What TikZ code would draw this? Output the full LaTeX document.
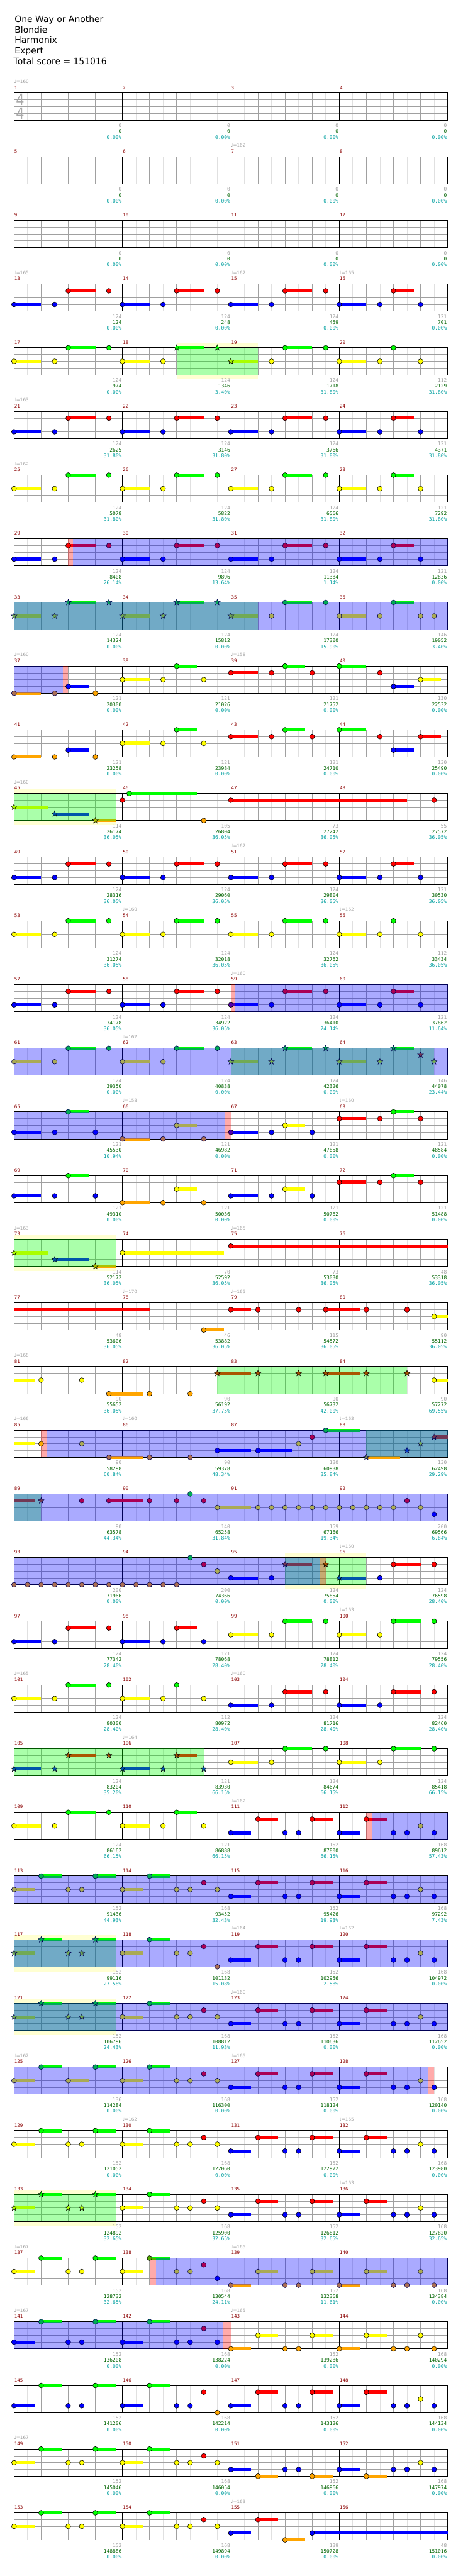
\documentclass[tikz,border=0pt]{standalone}
\usepackage{fontspec}
\setmainfont{DejaVu Sans}
\newfontfamily\chartmono{DejaVu Sans Mono}
\usetikzlibrary{shapes.geometric}

\definecolor{lane0}{HTML}{00FF00}
\definecolor{lane1}{HTML}{FF0000}
\definecolor{lane2}{HTML}{FFFF00}
\definecolor{lane3}{HTML}{0000FF}
\definecolor{lane4}{HTML}{FFA500}
\definecolor{gridGray}{HTML}{A0A0A0}
\definecolor{gridLight}{HTML}{E0E0E0}
\definecolor{barRed}{HTML}{8B0000}
\definecolor{scoreGray}{HTML}{A0A0A0}
\definecolor{scoreGreen}{HTML}{006400}
\definecolor{scoreCyan}{HTML}{00A0A0}
\definecolor{bandYellow}{HTML}{FFFFD2}
\definecolor{sigGray}{HTML}{AAAAAA}

\tikzset{
    ROW/.style={shift={(0,9.4*#1)}},
    EIGHTH_LINE/.style={draw=gridLight, line width=0.5pt},
    BEAT_LINE/.style={draw=gridGray, line width=0.5pt},
    LANE_LINE/.style={draw=gridGray, line width=0.6pt},
    BAR_LINE/.style={draw=black, line width=0.45pt},
    STAFF_BORDER/.style={draw=black, line width=0.7pt},
    NOTE/.style={shape=circle, draw=black, line width=0.4pt, inner sep=0pt,
        minimum size=5.4pt},
    STAR_NOTE/.style={shape=star, star points=5, star point ratio=2.4,
        draw=black, line width=0.35pt, inner sep=0pt, minimum size=6.8pt},
    NOTE_n/.style={NOTE, fill=lane#1},
    NOTE_a/.style={NOTE, fill=lane#1!67!blue, draw=black!67!blue},
    NOTE_p/.style={NOTE, fill=lane#1!67!red},
    NOTE_s/.style={STAR_NOTE, fill=lane#1!67!green},
    NOTE_t/.style={STAR_NOTE, fill=lane#1!67!green!67!blue, draw=black!67!blue},
    SP_BAND/.style={fill=bandYellow},
    SP_PHRASE/.style={fill=green, fill opacity=0.333},
    SP_ACTIVE/.style={fill=blue, fill opacity=0.333},
    SP_MARKER/.style={fill=red, fill opacity=0.333},
    MEASURE_NUM/.style={anchor=base west, inner sep=0pt, text=barRed,
        font=\chartmono\fontsize{5.2}{6}\selectfont},
    SCORE_TEXT/.style={anchor=base east, inner sep=0pt,
        font=\chartmono\fontsize{5.5}{6}\selectfont},
    TEMPO/.style={anchor=base west, inner sep=0pt, text=scoreGray,
        font=\fontsize{5}{6}\selectfont},
    TIME_SIG/.style={inner sep=0pt, text=sigGray, font=\fontsize{14.5}{16}\selectfont},
    TITLE/.style={anchor=base west, inner sep=0pt, font=\fontsize{9.7}{11}\selectfont}
}

% one staff of four measures, #1 = row
\newcommand{\ghstaff}[1]{%
    \fill[white] (0,0) rectangle (16,4);
    \foreach \x in {0.5,1.5,...,15.5} \draw[EIGHTH_LINE] (\x,0) -- (\x,4);
    \foreach \x in {1,2,3,5,6,7,9,10,11,13,14,15} \draw[BEAT_LINE] (\x,0) -- (\x,4);
    \foreach \y in {1,2,3} \draw[LANE_LINE] (0,\y) -- (16,\y);
    \foreach \x in {4,8,12} \draw[BAR_LINE] (\x,0) -- (\x,4);
    \draw[STAFF_BORDER] (0,0) rectangle (16,4);
    \foreach \m in {0,...,3}{
        \pgfmathtruncatemacro{\num}{4*#1+\m+1}
        \node[MEASURE_NUM] (bar\num) at (4*\m+0.01,-0.547) {\num};
    }}
% sustains, then star power shading (#2), then note heads
\newcommand{\ghnotes}[3]{%
    \foreach \b/\l/\e/\k in {#3}{
        \fill[lane\l] (\b,\l-0.233) rectangle (\e,\l+0.233);
    }
    #2
    \foreach \b/\l/\e/\k [count=\i] in {#3}{
        \node[NOTE_\k=\l] (#1n\i) at (\b,\l) {};
    }}
\newcommand{\ghheld}[3]{\fill[lane#1] (#2,#1-0.233) rectangle (#3,#1+0.233);}
\newcommand{\spband}[2]{\fill[SP_BAND] (#1,-0.667) rectangle (#2,4.667);}
\newcommand{\spphrase}[2]{\fill[SP_PHRASE] (#1,0) rectangle (#2,4);}
\newcommand{\spactive}[2]{\fill[SP_ACTIVE] (#1,0) rectangle (#2,4);}
\newcommand{\spmarker}[2]{\fill[SP_MARKER] (#1,0) rectangle (#2,4);}
\newcommand{\ghtempo}[3]{\node[TEMPO] (#1t#2) at (#2,-1.417) {♩=#3};}
\newcommand{\ghscores}[2]{%
    \foreach \g/\c/\p [count=\j] in {#2}{
        \node[SCORE_TEXT, text=scoreGray] (#1g\j) at (4*\j-0.02,5.067) {\g};
        \node[SCORE_TEXT, text=scoreGreen] (#1c\j) at (4*\j-0.02,5.933) {\c};
        \node[SCORE_TEXT, text=scoreCyan] (#1p\j) at (4*\j-0.02,6.8) {\p\%};
    }}

\begin{document}
\begin{tikzpicture}[x=30pt, y=-7.5pt]
    \useasboundingbox (-0.51667,-13.7333) rectangle (16.55,366.5333);
    \fill[white] (-0.51667,-13.7333) rectangle (16.55,366.5333);

    \node[TITLE] (song) at (0.02,-10.447) {One Way or Another};
    \node[TITLE] (artist) at (0.02,-8.9) {Blondie};
    \node[TITLE] (charter) at (0.02,-7.353) {Harmonix};
    \node[TITLE] (level) at (0.02,-5.807) {Expert};
    \node[TITLE] (total) at (-0.02,-4.26) {Total score = 151016};

    % measures 1-12
    \begin{scope}[ROW=0]
        \ghstaff{0}
        \node[TIME_SIG] (sigtop) at (0.225,0.98) {\scalebox{1}[1.2]{4}};
        \node[TIME_SIG] (sigbottom) at (0.225,2.98) {\scalebox{1}[1.2]{4}};
        \ghtempo{m1}{0}{160}
        \ghscores{m1}{0/0/0.00, 0/0/0.00, 0/0/0.00, 0/0/0.00}
    \end{scope}
    \begin{scope}[ROW=1]
        \ghstaff{1}
        \ghtempo{m5}{8}{162}
        \ghscores{m5}{0/0/0.00, 0/0/0.00, 0/0/0.00, 0/0/0.00}
    \end{scope}
    \begin{scope}[ROW=2]
        \ghstaff{2}
        \ghscores{m9}{0/0/0.00, 0/0/0.00, 0/0/0.00, 0/0/0.00}
    \end{scope}

    % measures 13-28
    \begin{scope}[ROW=3]
        \ghstaff{3}
        \ghtempo{m13}{0}{165} \ghtempo{m13}{8}{162} \ghtempo{m13}{12}{165}
        \ghnotes{m13}{}{0/3/1/n, 1.5/3/1.5/n, 2/1/3/n, 3.5/1/3.5/n, 4/3/5/n, 5.5/3/5.5/n, 6/1/7/n, 7.5/1/7.5/n,
            8/3/9/n, 9.5/3/9.5/n, 10/1/11/n, 11.5/1/11.5/n, 12/3/13/n, 13.5/3/13.5/n, 14/1/14.75/n, 15/3/15/n}
        \ghscores{m13}{124/124/0.00, 124/248/0.00, 124/459/0.00, 121/701/0.00}
    \end{scope}
    \begin{scope}[ROW=4]
        \spband{6}{9}
        \ghstaff{4}
        \ghnotes{m17}{\spphrase{6}{9}}{0/2/1/n, 1.5/2/1.5/n, 2/0/3/n, 3.5/0/3.5/n, 4/2/5/n, 5.5/2/5.5/n, 6/0/7/s, 7.5/0/7.5/s,
            8/2/9/s, 9.5/2/9.5/n, 10/0/11/n, 11.5/0/11.5/n, 12/2/13/n, 13.5/2/13.5/n, 14/0/14/n, 15/2/15/n}
        \ghscores{m17}{124/974/0.00, 124/1346/3.40, 124/1718/31.80, 112/2129/31.80}
    \end{scope}
    \begin{scope}[ROW=5]
        \ghstaff{5}
        \ghtempo{m21}{0}{163}
        \ghnotes{m21}{}{0/3/1/n, 1.5/3/1.5/n, 2/1/3/n, 3.5/1/3.5/n, 4/3/5/n, 5.5/3/5.5/n, 6/1/7/n, 7.5/1/7.5/n,
            8/3/9/n, 9.5/3/9.5/n, 10/1/11/n, 11.5/1/11.5/n, 12/3/13/n, 13.5/3/13.5/n, 14/1/14.75/n, 15/3/15/n}
        \ghscores{m21}{124/2625/31.80, 124/3146/31.80, 124/3766/31.80, 121/4371/31.80}
    \end{scope}
    \begin{scope}[ROW=6]
        \ghstaff{6}
        \ghtempo{m25}{0}{162}
        \ghnotes{m25}{}{0/2/1/n, 1.5/2/1.5/n, 2/0/3/n, 3.5/0/3.5/n, 4/2/5/n, 5.5/2/5.5/n, 6/0/7/n, 7.5/0/7.5/n,
            8/2/9/n, 9.5/2/9.5/n, 10/0/11/n, 11.5/0/11.5/n, 12/2/13/n, 13.5/2/13.5/n, 14/0/14.75/n, 15/2/15/n}
        \ghscores{m25}{124/5078/31.80, 124/5822/31.80, 124/6566/31.80, 121/7292/31.80}
    \end{scope}

    % measures 29-44
    \begin{scope}[ROW=7]
        \ghstaff{7}
        \ghnotes{m29}{\spactive{2.17}{16} \spmarker{2}{2.17}}{0/3/1/n, 1.5/3/1.5/n, 2/1/3/p, 3.5/1/3.5/a, 4/3/5/a, 5.5/3/5.5/a, 6/1/7/a, 7.5/1/7.5/a,
            8/3/9/a, 9.5/3/9.5/a, 10/1/11/a, 11.5/1/11.5/a, 12/3/13/a, 13.5/3/13.5/a, 14/1/14.75/a, 15/3/15/a}
        \ghscores{m29}{124/8408/26.14, 124/9896/13.64, 124/11384/1.14, 121/12836/0.00}
    \end{scope}
    \begin{scope}[ROW=8]
        \ghstaff{8}
        \ghnotes{m33}{\spphrase{0}{9} \spactive{0}{16}}{0/2/1/t, 1.5/2/1.5/t, 2/0/3/t, 3.5/0/3.5/t, 4/2/5/t, 5.5/2/5.5/t, 6/0/7/t, 7.5/0/7.5/t,
            8/2/9/t, 9.5/2/9.5/a, 10/0/11/a, 11.5/0/11.5/a, 12/2/13/a, 13.5/2/13.5/a, 14/0/14.75/a, 15/2/15/a, 15.5/2/15.5/a}
        \ghscores{m33}{124/14324/0.00, 124/15812/0.00, 124/17300/15.90, 146/19052/3.40}
    \end{scope}
    \begin{scope}[ROW=9]
        \ghstaff{9}
        \ghtempo{m37}{0}{160} \ghtempo{m37}{8}{158}
        \ghnotes{m37}{\spactive{0}{1.8} \spmarker{1.8}{2}}{0/4/1/a, 1.5/4/1.5/a, 2/3/2.75/n, 3/4/3/n, 4/2/5/n, 5.5/2/5.5/n, 6/0/6.75/n, 7/2/7/n,
            8/1/9/n, 9.5/1/9.5/n, 10/0/10.75/n, 11/1/11/n, 12/0/13/n, 13.5/1/13.5/n, 14/3/14.75/n, 15/2/15.75/n}
        \ghscores{m37}{121/20300/0.00, 121/21026/0.00, 121/21752/0.00, 130/22532/0.00}
    \end{scope}
    \begin{scope}[ROW=10]
        \ghstaff{10}
        \ghnotes{m41}{}{0/4/1/n, 1.5/4/1.5/n, 2/3/2.75/n, 3/4/3/n, 4/2/5/n, 5.5/2/5.5/n, 6/0/6.75/n, 7/2/7/n,
            8/1/9/n, 9.5/1/9.5/n, 10/0/10.75/n, 11/1/11/n, 12/0/13/n, 13.5/1/13.5/n, 14/3/14.75/n, 15/1/15.75/n}
        \ghscores{m41}{121/23258/0.00, 121/23984/0.00, 121/24710/0.00, 130/25490/0.00}
    \end{scope}

    % measures 45-60
    \begin{scope}[ROW=11]
        \spband{0}{3.75}
        \ghstaff{11}
        \ghtempo{m45}{0}{160}
        \ghnotes{m45}{\spphrase{0}{3.75}}{0/2/1.25/s, 1.5/3/2.75/s, 3/4/3.75/s, 4/1/4/n, 4.25/0/6.75/n, 7/4/7/n, 8/1/14.5/n, 15.5/1/15.5/n}
        \ghscores{m45}{114/26174/36.05, 105/26804/36.05, 73/27242/36.05, 55/27572/36.05}
    \end{scope}
    \begin{scope}[ROW=12]
        \ghstaff{12}
        \ghtempo{m49}{8}{162}
        \ghnotes{m49}{}{0/3/1/n, 1.5/3/1.5/n, 2/1/3/n, 3.5/1/3.5/n, 4/3/5/n, 5.5/3/5.5/n, 6/1/7/n, 7.5/1/7.5/n,
            8/3/9/n, 9.5/3/9.5/n, 10/1/11/n, 11.5/1/11.5/n, 12/3/13/n, 13.5/3/13.5/n, 14/1/14.75/n, 15/3/15/n}
        \ghscores{m49}{124/28316/36.05, 124/29060/36.05, 124/29804/36.05, 121/30530/36.05}
    \end{scope}
    \begin{scope}[ROW=13]
        \ghstaff{13}
        \ghtempo{m53}{4}{160} \ghtempo{m53}{12}{162}
        \ghnotes{m53}{}{0/2/1/n, 1.5/2/1.5/n, 2/0/3/n, 3.5/0/3.5/n, 4/2/5/n, 5.5/2/5.5/n, 6/0/7/n, 7.5/0/7.5/n,
            8/2/9/n, 9.5/2/9.5/n, 10/0/11/n, 11.5/0/11.5/n, 12/2/13/n, 13.5/2/13.5/n, 14/0/14/n, 15/2/15/n}
        \ghscores{m53}{124/31274/36.05, 124/32018/36.05, 124/32762/36.05, 112/33434/36.05}
    \end{scope}
    \begin{scope}[ROW=14]
        \ghstaff{14}
        \ghtempo{m57}{8}{160}
        \ghnotes{m57}{\spactive{8.17}{16} \spmarker{8}{8.17}}{0/3/1/n, 1.5/3/1.5/n, 2/1/3/n, 3.5/1/3.5/n, 4/3/5/n, 5.5/3/5.5/n, 6/1/7/n, 7.5/1/7.5/n,
            8/3/9/p, 9.5/3/9.5/a, 10/1/11/a, 11.5/1/11.5/a, 12/3/13/a, 13.5/3/13.5/a, 14/1/14.75/a, 15/3/15/a}
        \ghscores{m57}{124/34178/36.05, 124/34922/36.05, 124/36410/24.14, 121/37862/11.64}
    \end{scope}

    % measures 61-76
    \begin{scope}[ROW=15]
        \ghstaff{15}
        \ghtempo{m61}{4}{162}
        \ghnotes{m61}{\spphrase{8}{15.5} \spactive{0}{16}}{0/2/1/a, 1.5/2/1.5/a, 2/0/3/a, 3.5/0/3.5/a, 4/2/5/a, 5.5/2/5.5/a, 6/0/7/a, 7.5/0/7.5/a,
            8/2/9/t, 9.5/2/9.5/t, 10/0/11/t, 11.5/0/11.5/t, 12/2/13/t, 13.5/2/13.5/t, 14/0/14.75/t, 15/1/15/t, 15.5/2/15.5/t}
        \ghscores{m61}{124/39350/0.00, 124/40838/0.00, 124/42326/0.00, 146/44078/23.44}
    \end{scope}
    \begin{scope}[ROW=16]
        \ghstaff{16}
        \ghtempo{m65}{4}{158} \ghtempo{m65}{12}{160}
        \ghnotes{m65}{\spactive{0}{7.8} \spmarker{7.8}{8}}{0/3/1/a, 1.5/3/1.5/a, 2/0/2.75/a, 3/3/3/a, 4/4/5/a, 5.5/4/5.5/a, 6/2/6.75/a, 7/4/7/a,
            8/3/9/p, 9.5/3/9.5/n, 10/2/10.75/n, 11/3/11/n, 12/1/13/n, 13.5/1/13.5/n, 14/0/14.75/n, 15/1/15/n}
        \ghscores{m65}{121/45530/10.94, 121/46982/0.00, 121/47858/0.00, 121/48584/0.00}
    \end{scope}
    \begin{scope}[ROW=17]
        \ghstaff{17}
        \ghnotes{m69}{}{0/3/1/n, 1.5/3/1.5/n, 2/0/2.75/n, 3/3/3/n, 4/4/5/n, 5.5/4/5.5/n, 6/2/6.75/n, 7/4/7/n,
            8/3/9/n, 9.5/3/9.5/n, 10/2/10.75/n, 11/3/11/n, 12/1/13/n, 13.5/1/13.5/n, 14/0/14.75/n, 15/1/15/n}
        \ghscores{m69}{121/49310/0.00, 121/50036/0.00, 121/50762/0.00, 121/51488/0.00}
    \end{scope}
    \begin{scope}[ROW=18]
        \spband{0}{3.75}
        \ghstaff{18}
        \ghtempo{m73}{0}{163} \ghtempo{m73}{8}{165}
        \ghnotes{m73}{\spphrase{0}{3.75}}{0/2/1.25/s, 1.5/3/2.75/s, 3/4/3.75/s, 4/2/7.75/n, 8/1/16/n}
        \ghscores{m73}{114/52172/36.05, 70/52592/36.05, 73/53030/36.05, 48/53318/36.05}
    \end{scope}

    % measures 77-92
    \begin{scope}[ROW=19]
        \ghstaff{19}
        \ghtempo{m77}{4}{170} \ghtempo{m77}{8}{165}
        \ghnotes{m77}{\ghheld{1}{0}{5}}{7/4/7.75/n, 8/1/8.75/n, 9/1/9/n, 10.5/1/10.5/n, 11.5/1/12.75/n, 13/1/13/n, 14.5/1/14.5/n, 15.5/2/16/n}
        \ghscores{m77}{48/53606/36.05, 46/53882/36.05, 115/54572/36.05, 90/55112/36.05}
    \end{scope}
    \begin{scope}[ROW=20]
        \ghstaff{20}
        \ghtempo{m81}{0}{168}
        \ghnotes{m81}{\ghheld{2}{0}{0.75} \spphrase{7.5}{14.5}}{1/2/1/n, 2.5/2/2.5/n, 3.5/4/4.75/n, 5/4/5/n, 6.5/4/6.5/n, 7.5/1/8.75/s, 9/1/9/s,
            10.5/1/10.5/s, 11.5/1/12.75/s, 13/1/13/s, 14.5/1/14.5/s, 15.5/2/16/n}
        \ghscores{m81}{90/55652/36.05, 90/56192/37.75, 90/56732/42.00, 90/57272/69.55}
    \end{scope}
    \begin{scope}[ROW=21]
        \ghstaff{21}
        \ghtempo{m85}{0}{166} \ghtempo{m85}{4}{160} \ghtempo{m85}{12}{163}
        \ghnotes{m85}{\ghheld{2}{0}{0.75} \spphrase{13}{16} \spactive{1.2}{16} \spmarker{1}{1.2}}{1/2/1/p, 2.5/2/2.5/a, 3.5/4/4.75/a, 5/4/5/a, 6.5/4/6.5/a, 7.5/3/8.75/a, 9/3/10.25/a,
            10.5/2/10.5/a, 11/1/11/a, 11.5/0/12.75/a, 13/4/14.25/t, 14.5/3/14.5/t, 15/2/15/t, 15.5/1/16/t}
        \ghscores{m85}{90/58298/60.84, 90/59378/48.34, 130/60938/35.84, 130/62498/29.29}
    \end{scope}
    \begin{scope}[ROW=22]
        \ghstaff{22}
        \ghnotes{m89}{\ghheld{1}{0}{0.75} \spphrase{0}{1} \spactive{0}{16}}{1/1/1/t, 2.5/1/2.5/a, 3.5/1/4.75/a, 5/1/5/a, 6/1/6/a, 6.5/0/6.5/a, 7/1/7/a, 7.5/2/8.75/a,
            9/2/9/a, 9.5/2/9.5/a, 10/2/10/a, 10.5/2/10.5/a, 11/2/11/a, 11.5/2/11.5/a, 12/2/12/a, 12.5/2/12.5/a,
            13/2/13/a, 13.5/2/13.5/a, 14/2/14/a, 14.5/1/14.5/a, 15/2/15/a, 15.5/3/15.5/a}
        \ghscores{m89}{90/63578/44.34, 140/65258/31.84, 159/67166/19.34, 200/69566/6.84}
    \end{scope}

    % measures 93-108
    \begin{scope}[ROW=23]
        \spband{10}{13}
        \ghstaff{23}
        \ghtempo{m93}{12}{160}
        \ghnotes{m93}{\spphrase{10}{13} \spactive{0}{11.27} \spmarker{11.27}{11.5}}{0/4/0/a, 0.5/4/0.5/a, 1/4/1/a, 1.5/4/1.5/a, 2/4/2/a, 2.5/4/2.5/a, 3/4/3/a, 3.5/4/3.5/a,
            4/4/4/a, 4.5/4/4.5/a, 5/4/5/a, 5.5/4/5.5/a, 6/4/6/a, 6.5/0/6.5/a, 7/1/7/a, 7.5/2/7.5/a,
            8/3/9/a, 9.5/3/9.5/a, 10/1/11/t, 11.5/1/11.5/s, 12/3/13/s, 13.5/3/13.5/n, 14/1/15/n, 15.5/1/15.5/n}
        \ghscores{m93}{200/71966/0.00, 200/74366/0.00, 124/75854/0.00, 124/76598/28.40}
    \end{scope}
    \begin{scope}[ROW=24]
        \ghstaff{24}
        \ghtempo{m97}{12}{163}
        \ghnotes{m97}{}{0/3/1/n, 1.5/3/1.5/n, 2/1/3/n, 3.5/1/3.5/n, 4/3/5/n, 5.5/3/5.5/n, 6/1/6.75/n, 7/3/7/n,
            8/2/9/n, 9.5/2/9.5/n, 10/0/11/n, 11.5/0/11.5/n, 12/2/13/n, 13.5/2/13.5/n, 14/0/15/n, 15.5/0/15.5/n}
        \ghscores{m97}{124/77342/28.40, 121/78068/28.40, 124/78812/28.40, 124/79556/28.40}
    \end{scope}
    \begin{scope}[ROW=25]
        \ghstaff{25}
        \ghtempo{m101}{0}{165} \ghtempo{m101}{8}{160}
        \ghnotes{m101}{}{0/2/1/n, 1.5/2/1.5/n, 2/0/3/n, 3.5/0/3.5/n, 4/2/5/n, 5.5/2/5.5/n, 6/0/6/n, 7/2/7/n,
            8/3/9/n, 9.5/3/9.5/n, 10/1/11/n, 11.5/1/11.5/n, 12/3/13/n, 13.5/3/13.5/n, 14/1/15/n, 15.5/1/15.5/n}
        \ghscores{m101}{124/80300/28.40, 112/80972/28.40, 124/81716/28.40, 124/82460/28.40}
    \end{scope}
    \begin{scope}[ROW=26]
        \ghstaff{26}
        \ghtempo{m105}{4}{164}
        \ghnotes{m105}{\spphrase{0}{7}}{0/3/1/s, 1.5/3/1.5/s, 2/1/3/s, 3.5/1/3.5/s, 4/3/5/s, 5.5/3/5.5/s, 6/1/6.75/s, 7/3/7/s,
            8/2/9/n, 9.5/2/9.5/n, 10/0/11/n, 11.5/0/11.5/n, 12/2/13/n, 13.5/2/13.5/n, 14/0/15/n, 15.5/0/15.5/n}
        \ghscores{m105}{124/83204/35.20, 121/83930/66.15, 124/84674/66.15, 124/85418/66.15}
    \end{scope}

    % measures 109-124
    \begin{scope}[ROW=27]
        \ghstaff{27}
        \ghtempo{m109}{8}{162}
        \ghnotes{m109}{\spactive{13.2}{16} \spmarker{13}{13.2}}{0/2/1/n, 1.5/2/1.5/n, 2/0/3/n, 3.5/0/3.5/n, 4/2/5/n, 5.5/2/5.5/n, 6/0/6.75/n, 7/2/7/n,
            8/3/8.75/n, 9/1/9.75/n, 10/3/10/n, 10.5/3/10.5/n, 11/1/11.75/n, 12/3/12.75/n, 13/1/13.75/p,
            14/3/14/a, 14.5/3/14.5/a, 15/2/15/a, 15.5/3/15.5/a}
        \ghscores{m109}{124/86162/66.15, 121/86888/66.15, 152/87800/66.15, 168/89612/57.43}
    \end{scope}
    \begin{scope}[ROW=28]
        \ghstaff{28}
        \ghnotes{m113}{\spactive{0}{16}}{0/2/0.75/a, 1/0/1.75/a, 2/2/2/a, 2.5/2/2.5/a, 3/0/3.75/a, 4/2/4.75/a, 5/0/5.75/a, 6/2/6/a,
            6.5/2/6.5/a, 7/1/7/a, 7.5/2/7.5/a, 8/3/8.75/a, 9/1/9.75/a, 10/3/10/a, 10.5/3/10.5/a, 11/1/11.75/a,
            12/3/12.75/a, 13/1/13.75/a, 14/3/14/a, 14.5/3/14.5/a, 15/2/15/a, 15.5/3/15.5/a}
        \ghscores{m113}{152/91436/44.93, 168/93452/32.43, 152/95426/19.93, 168/97292/7.43}
    \end{scope}
    \begin{scope}[ROW=29]
        \spband{0}{3.75}
        \ghstaff{29}
        \ghtempo{m117}{8}{164} \ghtempo{m117}{12}{162}
        \ghnotes{m117}{\spphrase{0}{3.75} \spactive{0}{16}}{0/2/0.75/t, 1/0/1.75/t, 2/2/2/t, 2.5/2/2.5/t, 3/0/3.75/t, 4/2/4.75/a, 5/0/5.75/a, 6/2/6/a,
            6.5/2/6.5/a, 7/1/7/a, 7.5/4/7.5/a, 8/3/8.75/a, 9/1/9.75/a, 10/3/10/a, 10.5/3/10.5/a, 11/1/11.75/a,
            12/3/12.75/a, 13/1/13.75/a, 14/3/14/a, 14.5/3/14.5/a, 15/2/15/a, 15.5/3/15.5/a}
        \ghscores{m117}{152/99116/27.58, 168/101132/15.08, 152/102956/2.58, 168/104972/0.00}
    \end{scope}
    \begin{scope}[ROW=30]
        \spband{0}{3.75}
        \ghstaff{30}
        \ghtempo{m121}{8}{160}
        \ghnotes{m121}{\spphrase{0}{3.75} \spactive{0}{16}}{0/2/0.75/t, 1/0/1.75/t, 2/2/2/t, 2.5/2/2.5/t, 3/0/3.75/t, 4/2/4.75/a, 5/0/5.75/a, 6/2/6/a,
            6.5/2/6.5/a, 7/1/7/a, 7.5/2/7.5/a, 8/3/8.75/a, 9/1/9.75/a, 10/3/10/a, 10.5/3/10.5/a, 11/1/11.75/a,
            12/3/12.75/a, 13/1/13.75/a, 14/3/14/a, 14.5/3/14.5/a, 15/2/15/a, 15.5/3/15.5/a}
        \ghscores{m121}{152/106796/24.43, 168/108812/11.93, 152/110636/0.00, 168/112652/0.00}
    \end{scope}

    % measures 125-140
    \begin{scope}[ROW=31]
        \ghstaff{31}
        \ghtempo{m125}{0}{162} \ghtempo{m125}{8}{165}
        \ghnotes{m125}{\spactive{0}{15.26} \spmarker{15.26}{15.5}}{0/2/0.75/a, 1/0/1.75/a, 2/2/2.75/a, 3/0/3.75/a, 4/2/4.75/a, 5/0/5.75/a, 6/2/6/a,
            6.5/2/6.5/a, 7/1/7/a, 7.5/2/7.5/a, 8/3/8.75/a, 9/1/9.75/a, 10/3/10/a, 10.5/3/10.5/a, 11/1/11.75/a,
            12/3/12.75/a, 13/1/13.75/a, 14/3/14/a, 14.5/3/14.5/a, 15/2/15/a, 15.5/3/15.5/n}
        \ghscores{m125}{136/114284/0.00, 168/116300/0.00, 152/118124/0.00, 168/120140/0.00}
    \end{scope}
    \begin{scope}[ROW=32]
        \ghstaff{32}
        \ghtempo{m129}{4}{162} \ghtempo{m129}{12}{165}
        \ghnotes{m129}{}{0/2/0.75/n, 1/0/1.75/n, 2/2/2/n, 2.5/2/2.5/n, 3/0/3.75/n, 4/2/4.75/n, 5/0/5.75/n, 6/2/6/n,
            6.5/2/6.5/n, 7/1/7/n, 7.5/2/7.5/n, 8/3/8.75/n, 9/1/9.75/n, 10/3/10/n, 10.5/3/10.5/n, 11/1/11.75/n,
            12/3/12.75/n, 13/1/13.75/n, 14/3/14/n, 14.5/3/14.5/n, 15/2/15/n, 15.5/3/15.5/n}
        \ghscores{m129}{152/121052/0.00, 168/122060/0.00, 152/122972/0.00, 168/123980/0.00}
    \end{scope}
    \begin{scope}[ROW=33]
        \spband{0}{3.75}
        \ghstaff{33}
        \ghtempo{m133}{12}{163}
        \ghnotes{m133}{\spphrase{0}{3.75}}{0/2/0.75/s, 1/0/1.75/s, 2/2/2/s, 2.5/2/2.5/s, 3/0/3.75/s, 4/2/4.75/n, 5/0/5.75/n, 6/2/6/n,
            6.5/2/6.5/n, 7/1/7/n, 7.5/2/7.5/n, 8/3/8.75/n, 9/1/9.75/n, 10/3/10/n, 10.5/3/10.5/n, 11/1/11.75/n,
            12/3/12.75/n, 13/1/13.75/n, 14/3/14/n, 14.5/3/14.5/n, 15/2/15/n, 15.5/3/15.5/n}
        \ghscores{m133}{152/124892/32.65, 168/125900/32.65, 152/126812/32.65, 168/127820/32.65}
    \end{scope}
    \begin{scope}[ROW=34]
        \ghstaff{34}
        \ghtempo{m137}{0}{167} \ghtempo{m137}{8}{165}
        \ghnotes{m137}{\spactive{5.25}{16} \spmarker{5}{5.25}}{0/2/0.75/n, 1/0/1.75/n, 2/2/2/n, 2.5/2/2.5/n, 3/0/3.75/n, 4/2/4.75/n, 5/0/5.75/p, 6/2/6/a,
            6.5/2/6.5/a, 7/1/7/a, 7.5/3/7.5/a, 8/4/8.75/a, 9/2/9.75/a, 10/4/10/a, 10.5/4/10.5/a, 11/2/11.75/a,
            12/4/12.75/a, 13/2/13.75/a, 14/4/14/a, 14.5/4/14.5/a, 15/2/15/a, 15.5/4/15.5/a}
        \ghscores{m137}{152/128732/32.65, 168/130544/24.11, 152/132368/11.61, 168/134384/0.00}
    \end{scope}

    % measures 141-156
    \begin{scope}[ROW=35]
        \ghstaff{35}
        \ghtempo{m141}{0}{167} \ghtempo{m141}{8}{165}
        \ghnotes{m141}{\spactive{0}{7.7} \spmarker{7.7}{8}}{0/3/0.75/a, 1/0/1.75/a, 2/3/2/a, 2.5/3/2.5/a, 3/0/3.75/a, 4/3/4.75/a, 5/0/5.75/a, 6/3/6/a,
            6.5/3/6.5/a, 7/1/7/a, 7.5/3/7.5/a, 8/4/8.75/n, 9/2/9.75/n, 10/4/10/n, 10.5/4/10.5/n, 11/2/11.75/n,
            12/4/12.75/n, 13/2/13.75/n, 14/4/14/n, 14.5/4/14.5/n, 15/2/15/n, 15.5/4/15.5/n}
        \ghscores{m141}{152/136208/0.00, 168/138224/0.00, 152/139286/0.00, 168/140294/0.00}
    \end{scope}
    \begin{scope}[ROW=36]
        \ghstaff{36}
        \ghnotes{m145}{}{0/3/0.75/n, 1/0/1.75/n, 2/3/2/n, 2.5/3/2.5/n, 3/0/3.75/n, 4/3/4.75/n, 5/0/5.75/n, 6/3/6/n,
            6.5/3/6.5/n, 7/1/7/n, 7.5/4/7.5/n, 8/3/8.75/n, 9/1/9.75/n, 10/3/10/n, 10.5/3/10.5/n, 11/1/11.75/n,
            12/3/12.75/n, 13/1/13.75/n, 14/3/14/n, 14.5/3/14.5/n, 15/2/15/n, 15.5/3/15.5/n}
        \ghscores{m145}{152/141206/0.00, 168/142214/0.00, 152/143126/0.00, 168/144134/0.00}
    \end{scope}
    \begin{scope}[ROW=37]
        \ghstaff{37}
        \ghtempo{m149}{0}{167}
        \ghnotes{m149}{}{0/2/0.75/n, 1/0/1.75/n, 2/2/2/n, 2.5/2/2.5/n, 3/0/3.75/n, 4/2/4.75/n, 5/0/5.75/n, 6/2/6/n,
            6.5/2/6.5/n, 7/1/7/n, 7.5/2/7.5/n, 8/3/8.75/n, 9/4/9.75/n, 10/3/10/n, 10.5/3/10.5/n, 11/4/11.75/n,
            12/3/12.75/n, 13/4/13.75/n, 14/3/14/n, 14.5/3/14.5/n, 15/2/15/n, 15.5/3/15.5/n}
        \ghscores{m149}{152/145046/0.00, 168/146054/0.00, 152/146966/0.00, 168/147974/0.00}
    \end{scope}
    \begin{scope}[ROW=38]
        \ghstaff{38}
        \ghtempo{m153}{8}{163}
        \ghnotes{m153}{}{0/2/0.75/n, 1/0/1.75/n, 2/2/2/n, 2.5/2/2.5/n, 3/0/3.75/n, 4/2/4.75/n, 5/0/5.75/n, 6/2/6/n,
            6.5/2/6.5/n, 7/1/7/n, 7.5/2/7.5/n, 8/3/8.75/n, 9/1/9.75/n, 10/4/10.75/n, 11/3/16/n}
        \ghscores{m153}{152/148886/0.00, 168/149894/0.00, 139/150728/0.00, 48/151016/0.00}
    \end{scope}
\end{tikzpicture}
\end{document}
